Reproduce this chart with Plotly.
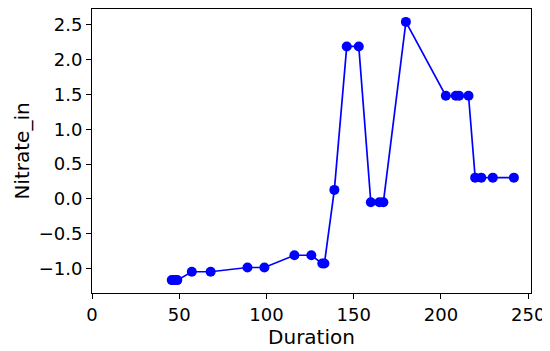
import plotly.graph_objects as go

duration = [45.7, 47.3, 48.9, 57.2, 68.0, 89.1, 98.8, 116.0, 125.7, 132.0, 133.2,
            138.9, 146.0, 152.9, 159.8, 164.7, 167.0, 179.9, 202.8, 208.5, 210.4,
            215.8, 219.6, 223.1, 229.7, 241.8]
nitrate_in = [-1.167, -1.167, -1.167, -1.047, -1.047, -0.986, -0.986, -0.81, -0.81,
              -0.929, -0.929, 0.129, 2.19, 2.19, -0.048, -0.048, -0.048, 2.543,
              1.481, 1.481, 1.481, 1.481, 0.305, 0.305, 0.305, 0.305]

x_ticks = [0, 50, 100, 150, 200, 250]
y_ticks = [-1.0, -0.5, 0.0, 0.5, 1.0, 1.5, 2.0, 2.5]

fig = go.Figure(go.Scatter(
    x=duration, y=nitrate_in, mode="lines+markers",
    line=dict(color="#0000ff", width=1.7),
    marker=dict(color="#0000ff", size=10),
))

axis_common = dict(
    showgrid=False, zeroline=False, showline=True, linecolor="black", linewidth=1,
    mirror=True, ticks="outside", ticklen=5, tickcolor="black", tickwidth=1,
    tickfont=dict(family="DejaVu Sans", size=18, color="black"),
    automargin=False,
)

fig.update_layout(
    width=550, height=351,
    margin=dict(l=84, r=27, t=1, b=66),
    paper_bgcolor="white", plot_bgcolor="white",
    showlegend=False,
    font=dict(family="DejaVu Sans", color="black"),
    xaxis=dict(range=[0, 251.6], tickvals=x_ticks, ticktext=[str(v) for v in x_ticks],
               title=dict(text="Duration", font=dict(size=20), standoff=0), **axis_common),
    yaxis=dict(range=[-1.352, 2.728], tickvals=y_ticks,
               ticktext=[("\u2212" if v < 0 else "") + f"{abs(v):.1f}" for v in y_ticks],
               title=dict(text="Nitrate_in", font=dict(size=20), standoff=3), **axis_common),
)

fig.write_html("out.html")
